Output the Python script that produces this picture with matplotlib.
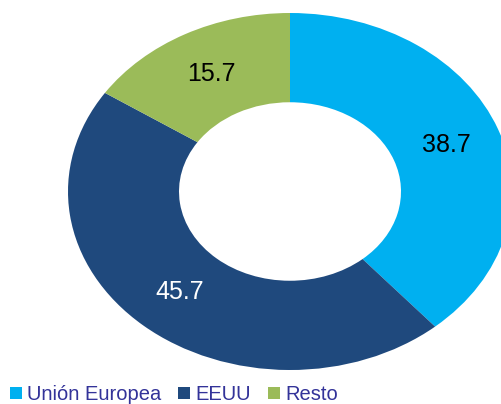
import matplotlib
matplotlib.use("Agg")
import matplotlib.pyplot as plt
from matplotlib.lines import Line2D

categories = ["Unión Europea", "EEUU", "Resto"]
values = [38.7, 45.7, 15.7]
colors = ["#00B0F0", "#1F497D", "#9BBB59"]
label_colors = ["black", "white", "black"]

plt.rcParams['font.family'] = ['Liberation Sans', 'DejaVu Sans']

fig = plt.figure(figsize=(5.02, 4.04), dpi=100)
# axes spans the outer ellipse of the donut (stretched horizontally)
ax = fig.add_axes([68/502, 34/404, 444/502, 357/404])
wedges, texts, autotexts = ax.pie(
    values, colors=colors, startangle=90, counterclock=False,
    radius=1, wedgeprops=dict(width=0.5, linewidth=0),
    autopct=lambda p: "", pctdistance=0.75)
for at, v, c in zip(autotexts, values, label_colors):
    at.set_text(f"{v:.1f}")
    at.set_color(c)
    at.set_fontsize(18)
ax.set_aspect('auto')
ax.set_xlim(-1, 1)
ax.set_ylim(-1, 1)
ax.axis('off')

handles = [Line2D([], [], linestyle='none', marker='s', markersize=9,
                  markerfacecolor=c, markeredgewidth=0) for c in colors]
leg = fig.legend(handles, categories, loc='center left',
                 bbox_to_anchor=(9/502, 9/404), ncol=3, frameon=False,
                 fontsize=14.5, handlelength=0.65, handletextpad=0.25,
                 columnspacing=0.8, borderpad=0, borderaxespad=0)
for t in leg.get_texts():
    t.set_color('#333399')

fig.savefig("out.png", dpi=100)
